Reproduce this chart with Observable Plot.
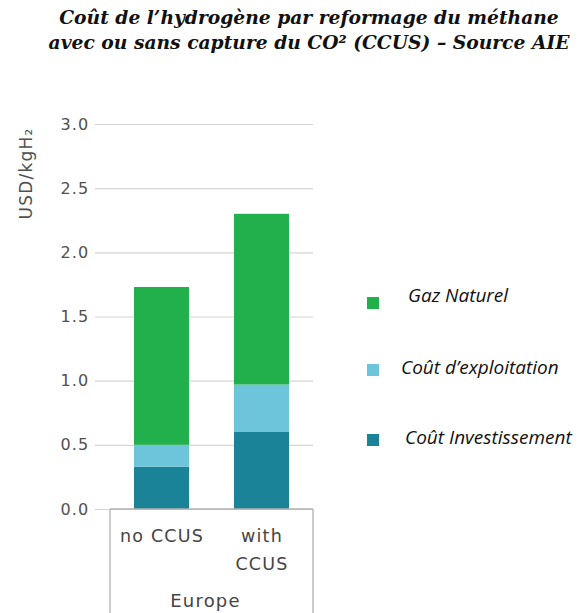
<!DOCTYPE html>
<html>
<head>
<meta charset="utf-8">
<script src="https://cdn.jsdelivr.net/npm/d3@7"></script>
<script src="https://cdn.jsdelivr.net/npm/@observablehq/plot@0.6"></script>
<style>
  html, body { margin: 0; padding: 0; background: #fff; }
  #wrap { position: relative; width: 579px; height: 613px; overflow: hidden; }
  #title { position: absolute; left: 29px; top: 5px; width: 560px; text-align: center;
    font-family: "DejaVu Serif", "Liberation Serif", serif; font-weight: bold; font-style: italic;
    font-size: 18.7px; line-height: 25px; color: #111; }
  #chart { position: absolute; left: 0; top: 70px; }
  #legend { position: absolute; left: 367px; top: 0; font-family: "Open Sans", sans-serif; font-style: italic; font-size: 19px; color: #111; }
  .item { position: absolute; white-space: nowrap; }
  .sw { position: absolute; width: 12px; height: 12px; }
</style>
</head>
<body>
<div id="wrap">
  <div id="title">Coût de l’hydrogène par reformage du méthane<br>avec ou sans capture du CO² (CCUS) – Source AIE</div>
  <div id="chart"></div>
  <div id="legend"></div>
</div>
<script>
const categories = ["no CCUS", "with CCUS"];
const categoryLabels = ["no CCUS", "with\nCCUS"];
const region = "Europe";
const components = ["Coût Investissement", "Coût d’exploitation", "Gaz Naturel"];
const colors = ["#1a8398", "#6cc5da", "#21b04b"];
const investValues = [0.33, 0.60];
const exploitValues = [0.17, 0.37];
const gasValues = [1.23, 1.33];
const yTicks = [0, 0.5, 1.0, 1.5, 2.0, 2.5, 3.0];
const yLabel = "USD/kgH₂";

const seriesValues = [investValues, exploitValues, gasValues];
const data = [];
components.forEach((c, i) => categories.forEach((cat, j) => data.push({cat, comp: c, value: seriesValues[i][j]})));

const plot = Plot.plot({
  width: 579,
  height: 543,
  marginLeft: 95,
  marginRight: 266,
  marginTop: 54,
  marginBottom: 104,
  style: {fontFamily: "DejaVu Sans, sans-serif", fontSize: "16px", color: "#555", background: "transparent", letterSpacing: "1.2px"},
  x: {domain: categories, range: [110, 313], paddingInner: 0.45, paddingOuter: 0.235, label: null},
  y: {domain: [0, 3], label: null},
  color: {domain: components, range: colors},
  marks: [
    Plot.ruleY(yTicks, {stroke: "#d6d6d6", strokeWidth: 1.2}),
    Plot.barY(data, {x: "cat", y: "value", fill: "comp", order: components}),
    Plot.axisY(yTicks, {tickSize: 0, tickPadding: 6, tickFormat: d3.format(".1f"), fontSize: 16, fill: "#505050", label: null}),
    Plot.axisX({tickSize: 0, tickPadding: 13, fontSize: 17.5, fill: "#444", lineHeight: 1.6,
      tickFormat: d => categoryLabels[categories.indexOf(d)], textAnchor: "middle", label: null}),
    Plot.text([region], {frameAnchor: "bottom", dy: 97, fontSize: 18, fill: "#444", text: d => d, dx: 1}),
    Plot.text([yLabel], {frameAnchor: "top-left", rotate: -90, textAnchor: "end", dx: -76, dy: 3, fontSize: 17, fill: "#505050", text: d => d, style: "letter-spacing:1.6px"})
  ]
});
document.getElementById("chart").appendChild(plot);

// x-axis box around categories
const xs = plot.scale("x");
const ys = plot.scale("y");
const svg = d3.select(plot);
const x0 = xs.range[0], x1 = xs.range[1], y0 = ys.apply(0);
const g = svg.append("g").attr("stroke", "#b0b0b0").attr("stroke-width", 1.3);
g.append("line").attr("x1", x0).attr("x2", x1).attr("y1", y0).attr("y2", y0);
g.append("line").attr("x1", x0).attr("x2", x0).attr("y1", y0).attr("y2", 543);
g.append("line").attr("x1", x1).attr("x2", x1).attr("y1", y0).attr("y2", 543);

// legend
const legendTops = [297, 364, 434];
const legendTextTops = [282, 354, 424];
const legendOrder = [2, 1, 0];
const legendTextLeft = [41, 34, 38];
const lg = document.getElementById("legend");
legendOrder.forEach((ci, k) => {
  const sw = document.createElement("div");
  sw.className = "sw";
  sw.style.background = plot.scale("color").apply(components[ci]);
  sw.style.left = "0px";
  sw.style.top = legendTops[k] + "px";
  lg.appendChild(sw);
  const t = document.createElement("div");
  t.className = "item";
  t.textContent = components[ci];
  t.style.left = legendTextLeft[k] + "px";
  t.style.top = legendTextTops[k] + "px";
  lg.appendChild(t);
});
</script>
</body>
</html>
